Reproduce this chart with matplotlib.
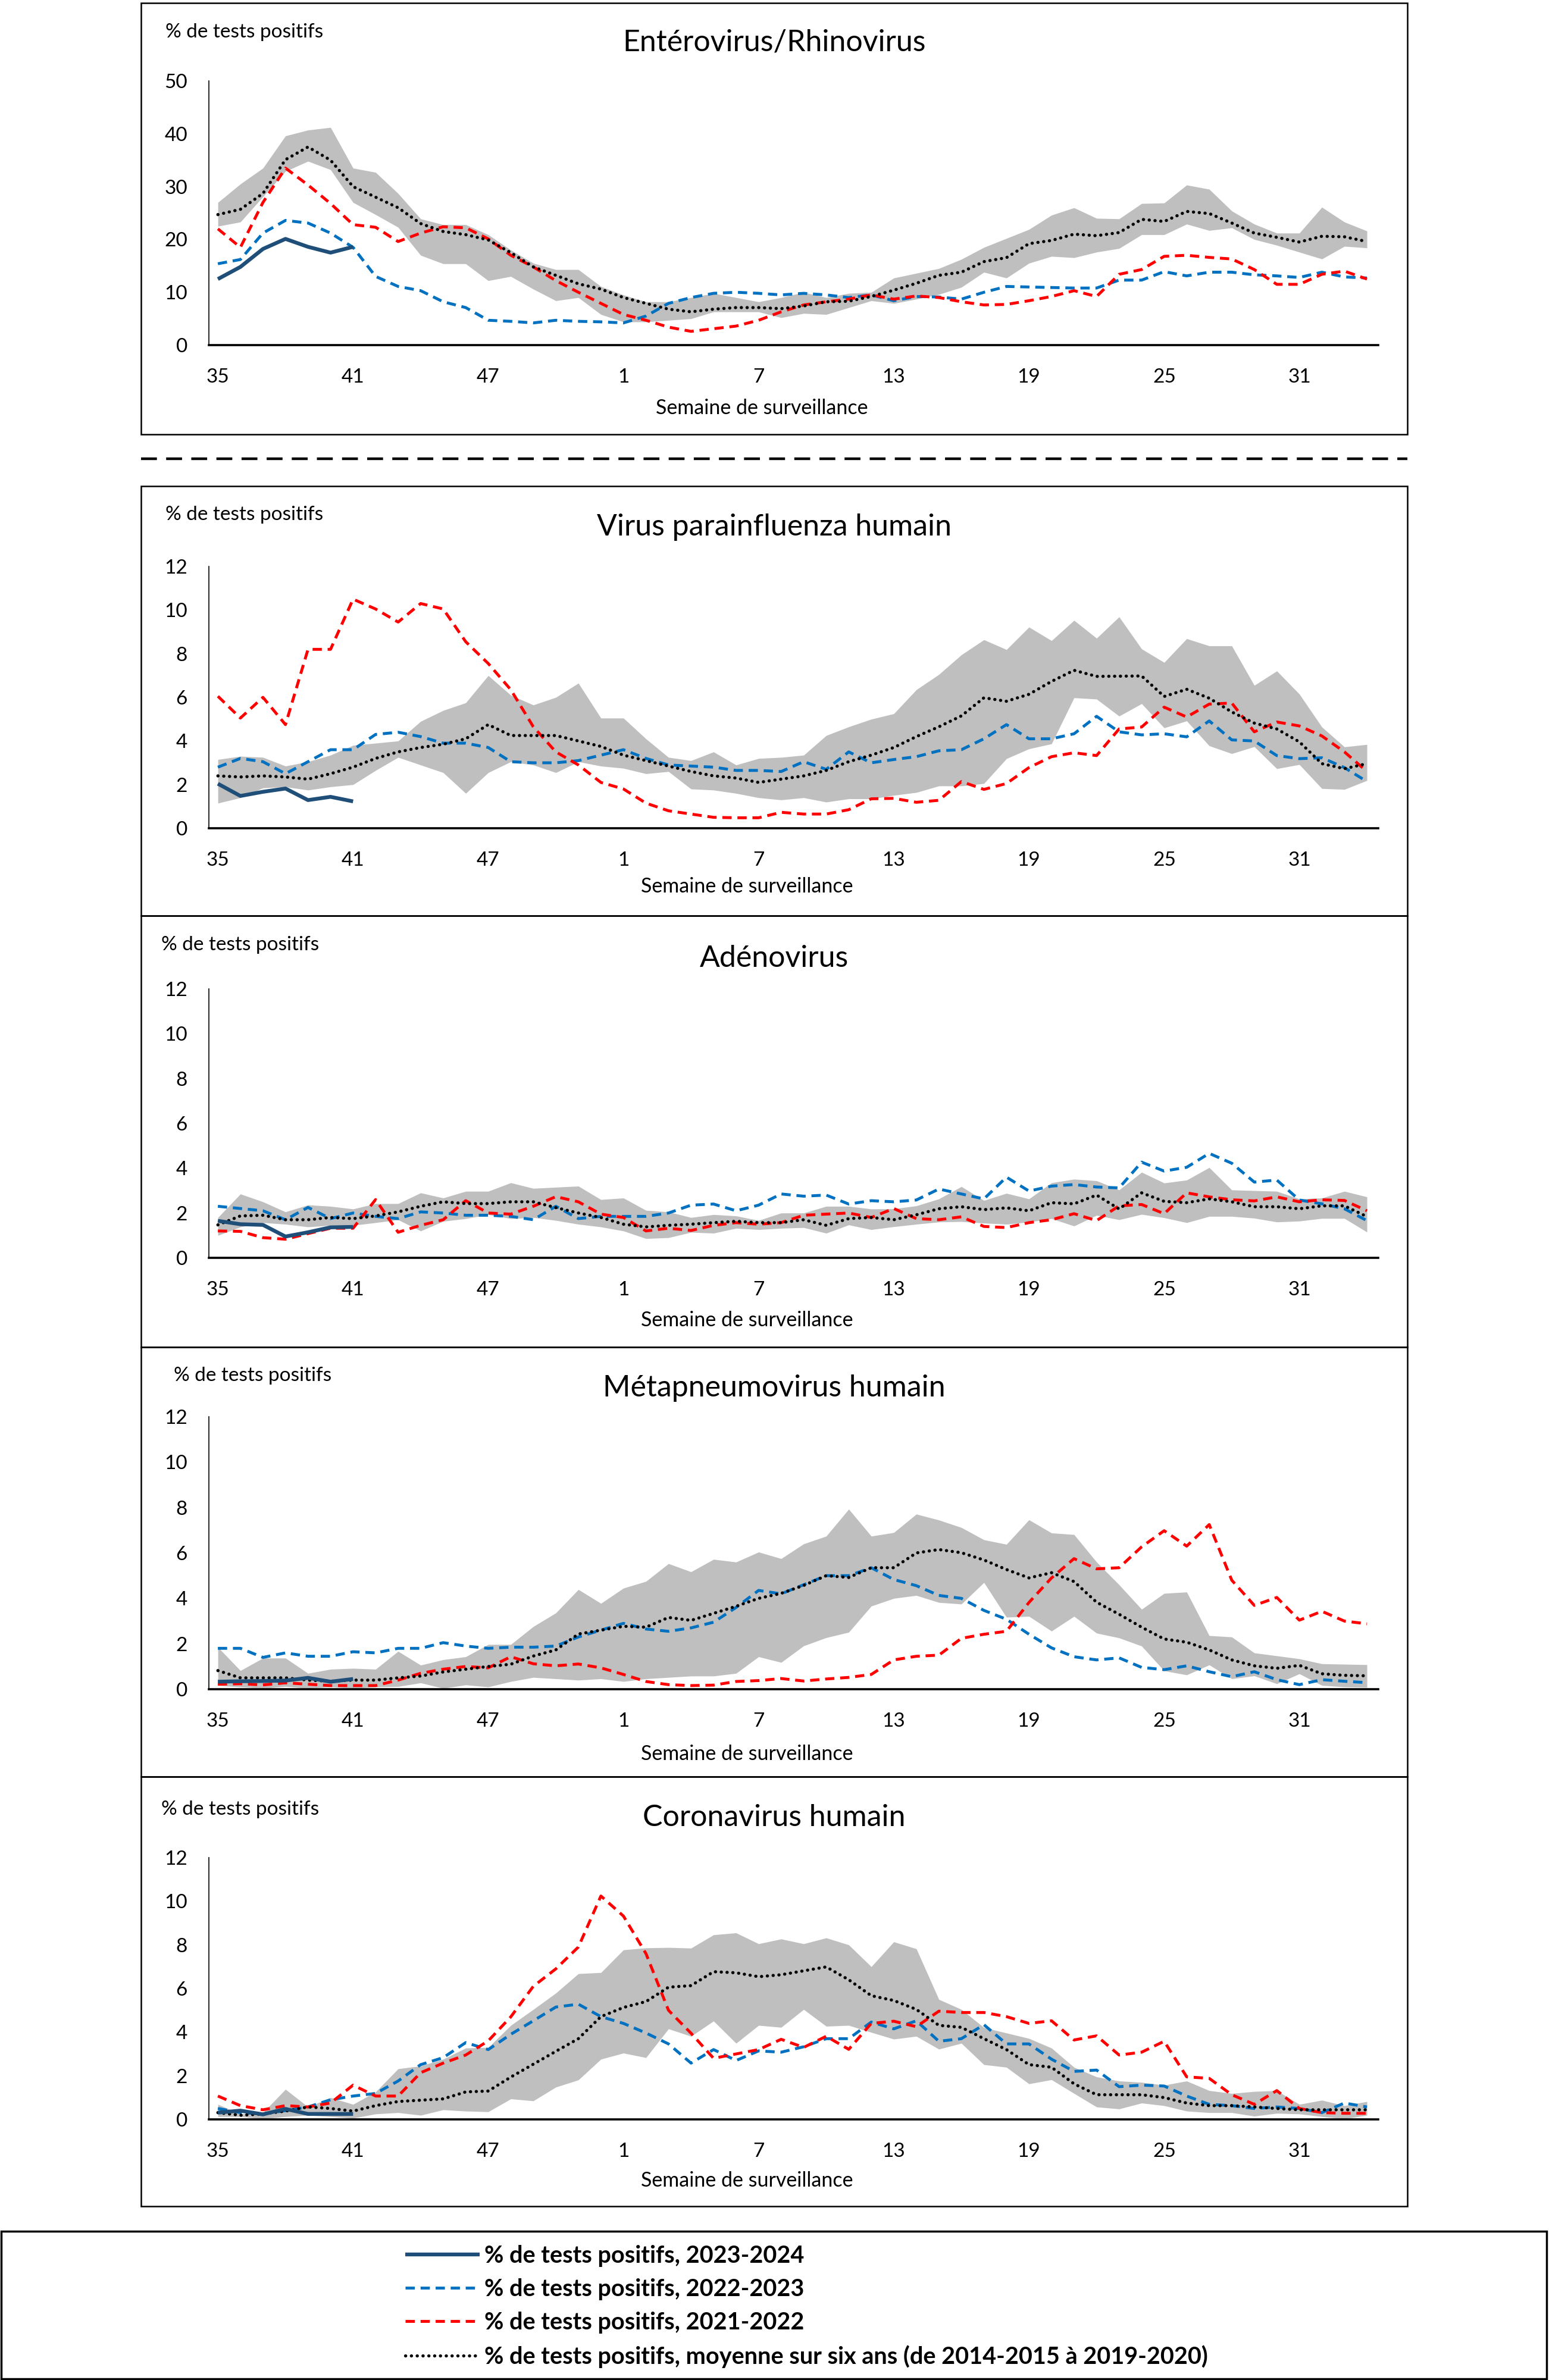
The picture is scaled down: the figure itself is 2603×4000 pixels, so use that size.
import matplotlib
matplotlib.use("Agg")
import matplotlib.pyplot as plt
from matplotlib.patches import Rectangle
from matplotlib.lines import Line2D
import numpy as np

plt.rcParams['font.family'] = ['Lato', 'DejaVu Sans']

# ---------------- data ----------------
weeks = list(range(35, 53)) + list(range(1, 35))
tick_weeks = [35, 41, 47, 1, 7, 13, 19, 25, 31]

labels = ["% de tests positifs, 2023-2024",
          "% de tests positifs, 2022-2023",
          "% de tests positifs, 2021-2022",
          "% de tests positifs, moyenne sur six ans (de 2014-2015 à 2019-2020)"]

# Entérovirus/Rhinovirus
cur1 = [12.5, 14.8, 18.2, 20.1, 18.6, 17.5, 18.6]
blue1 = [15.4, 16.2, 21.2, 23.6, 23.1, 21.2, 18.5, 13.0, 11.1, 10.3, 8.2, 7.1, 4.7, 4.5, 4.2, 4.7, 4.5, 4.4,
         4.2, 5.5, 7.9, 9.0, 9.8, 10.0, 9.8, 9.5, 9.8, 9.5, 9.0, 9.5,
         8.4, 9.2, 9.1, 8.7, 10.0, 11.1, 11.0, 10.9, 10.8, 10.8, 12.3, 12.3, 13.9, 13.1, 13.8, 13.8, 13.3, 13.1,
         12.8, 13.8, 12.9, 12.7]
red1 = [22.0, 18.5, 27.0, 33.5, 30.3, 26.8, 22.8, 22.3, 19.6, 21.2, 22.4, 22.2, 20.1, 17.0, 14.8, 12.2, 10.0, 7.9,
        5.8, 4.7, 3.4, 2.6, 3.1, 3.6, 4.7, 6.3, 7.6, 8.2, 8.7, 9.5,
        8.7, 9.3, 9.0, 8.2, 7.6, 7.7, 8.4, 9.2, 10.3, 9.2, 13.4, 14.3, 16.8, 17.0, 16.6, 16.3, 14.3, 11.5, 11.5,
        13.4, 14.0, 12.5]
mean1 = [24.7, 25.7, 28.7, 35.1, 37.5, 35.0, 30.0, 28.0, 26.0, 23.0, 21.5, 20.9, 19.9, 17.5, 14.8, 13.2, 11.6, 10.6,
         9.0, 7.9, 6.8, 6.3, 6.8, 7.1, 7.1, 6.9, 7.4, 8.2, 8.3, 9.2,
         10.4, 11.7, 13.2, 13.8, 15.8, 16.55, 19.2, 19.8, 21.0, 20.7, 21.3, 23.8, 23.4, 25.3, 24.9, 23.1, 21.2,
         20.4, 19.5, 20.6, 20.5, 19.6]
hi1 = [27.0, 30.5, 33.5, 39.6, 40.7, 41.2, 33.5, 32.7, 28.7, 23.9, 22.8, 22.8, 20.9, 18.0, 15.5, 14.3, 14.3, 11.1,
       9.5, 8.2, 8.2, 9.0, 9.8, 9.0, 8.2, 9.0, 10.0, 9.0, 9.8, 10.0,
       12.7, 13.6, 14.5, 16.25, 18.5, 20.2, 21.9, 24.6, 26.0, 24.0, 23.9, 26.8, 26.9, 30.3, 29.5, 25.4, 22.9,
       21.2, 21.2, 26.1, 23.3, 21.6]
lo1 = [22.5, 23.3, 28.1, 32.9, 34.8, 33.2, 27.0, 24.7, 22.3, 17.0, 15.4, 15.4, 12.2, 13.0, 10.6, 8.4, 9.0, 5.8,
       4.4, 4.4, 4.7, 5.0, 6.3, 6.3, 6.3, 5.2, 6.0, 5.8, 7.1, 8.4,
       7.9, 8.7, 9.6, 10.95, 13.8, 12.7, 15.5, 16.8, 16.55, 17.6, 18.3, 20.9, 20.9, 22.9, 21.7, 22.2, 20.0,
       18.9, 17.6, 16.3, 18.7, 18.4]

# Virus parainfluenza humain
cur2 = [2.04, 1.48, 1.67, 1.82, 1.29, 1.44, 1.23]
blue2 = [2.8, 3.2, 3.05, 2.5, 3.05, 3.6, 3.6, 4.3, 4.4, 4.2, 3.9, 3.9, 3.7, 3.05, 3.0, 3.0, 3.1, 3.35, 3.6, 3.2,
         2.9, 2.85, 2.8, 2.65, 2.65, 2.6, 3.05, 2.7, 3.5, 3.0,
         3.15, 3.28, 3.55, 3.6, 4.1, 4.75, 4.1, 4.1, 4.33, 5.13, 4.42, 4.28, 4.33, 4.19, 4.92, 4.05, 4.0, 3.33,
         3.19, 3.23, 2.78, 2.14]
red2 = [6.05, 5.05, 6.0, 4.75, 8.2, 8.2, 10.5, 10.05, 9.45, 10.3, 10.05, 8.55, 7.55, 6.35, 4.65, 3.5, 2.9, 2.1,
        1.8, 1.15, 0.8, 0.65, 0.5, 0.48, 0.48, 0.73, 0.65, 0.65, 0.85, 1.35,
        1.37, 1.19, 1.28, 2.14, 1.78, 2.05, 2.78, 3.28, 3.46, 3.33, 4.55, 4.64, 5.55, 5.1, 5.69, 5.74, 4.42,
        4.87, 4.69, 4.23, 3.5, 2.6]
mean2 = [2.4, 2.35, 2.4, 2.35, 2.25, 2.5, 2.8, 3.2, 3.5, 3.7, 3.85, 4.1, 4.75, 4.25, 4.25, 4.25, 4.0, 3.75, 3.35,
         3.1, 2.85, 2.6, 2.4, 2.3, 2.1, 2.25, 2.4, 2.65, 3.05, 3.35, 3.7, 4.2, 4.65, 5.15,
         5.98, 5.82, 6.14, 6.73, 7.24, 6.96, 6.97, 6.98, 6.04, 6.37, 5.96, 5.33, 4.82, 4.55, 3.96, 2.96, 2.73,
         2.96]
hi2 = [3.15, 3.3, 3.25, 2.85, 3.05, 3.35, 3.8, 3.9, 4.0, 4.9, 5.4, 5.75, 7.0, 6.1, 5.65, 6.0, 6.65, 5.05, 5.05,
       4.1, 3.25, 3.1, 3.5, 2.9, 3.2, 3.25, 3.35, 4.25, 4.65, 5.0, 5.25, 6.35, 7.05, 7.95,
       8.64, 8.19, 9.22, 8.6, 9.53, 8.71, 9.69, 8.22, 7.6, 8.69, 8.36, 8.36, 6.55, 7.21, 6.15, 4.64, 3.73, 3.84]
lo2 = [1.15, 1.4, 1.85, 1.9, 1.75, 1.9, 2.0, 2.65, 3.25, 2.9, 2.55, 1.6, 2.55, 3.05, 2.9, 2.55, 3.05, 2.85, 2.75,
       2.5, 2.6, 1.8, 1.75, 1.6, 1.4, 1.3, 1.4, 1.2, 1.35, 1.35,
       1.51, 1.64, 1.94, 1.94, 2.05, 3.19, 3.64, 3.87, 5.98, 5.92, 5.14, 5.71, 4.6, 4.92, 3.78, 3.42, 3.74,
       2.73, 2.92, 1.82, 1.78, 2.19]

# Adénovirus
cur3 = [1.65, 1.5, 1.47, 0.95, 1.14, 1.36, 1.38]
blue3 = [2.3, 2.2, 2.1, 1.7, 2.25, 1.75, 2.0, 1.85, 1.75, 2.05, 2.0, 1.9, 1.9, 1.85, 1.7, 2.3, 1.75, 1.85, 1.85,
         1.85, 2.0, 2.35, 2.4, 2.1, 2.35, 2.85, 2.75, 2.8, 2.4, 2.55,
         2.5, 2.58, 3.07, 2.85, 2.63, 3.6, 2.98, 3.2, 3.27, 3.16, 3.12, 4.27, 3.87, 4.04, 4.66, 4.22, 3.38, 3.47,
         2.58, 2.41, 2.19, 1.66]
red3 = [1.2, 1.18, 0.9, 0.83, 1.08, 1.32, 1.32, 2.6, 1.14, 1.45, 1.7, 2.55, 2.0, 1.95, 2.3, 2.73, 2.5, 1.95, 1.8,
        1.2, 1.32, 1.22, 1.45, 1.57, 1.5, 1.57, 1.9, 1.95, 2.0, 1.8,
        2.2, 1.75, 1.7, 1.83, 1.4, 1.35, 1.57, 1.7, 1.97, 1.66, 2.32, 2.38, 1.97, 2.9, 2.72, 2.59, 2.54, 2.72,
        2.5, 2.59, 2.56, 2.1]
mean3 = [1.47, 1.87, 1.9, 1.7, 1.7, 1.8, 1.75, 1.87, 2.05, 2.3, 2.5, 2.42, 2.42, 2.5, 2.5, 2.24, 2.0, 1.8, 1.5,
         1.38, 1.45, 1.5, 1.57, 1.63, 1.57, 1.57, 1.7, 1.45, 1.75, 1.8,
         1.7, 1.92, 2.19, 2.28, 2.15, 2.23, 2.1, 2.46, 2.41, 2.8, 2.18, 2.9, 2.52, 2.46, 2.63, 2.5, 2.28, 2.28,
         2.19, 2.32, 2.32, 1.84]
hi3 = [1.8, 2.85, 2.5, 2.05, 2.36, 2.3, 2.18, 2.42, 2.42, 2.9, 2.67, 2.97, 2.97, 3.35, 3.1, 3.15, 3.2, 2.6, 2.67,
       2.12, 2.05, 1.8, 1.93, 1.87, 1.67, 2.0, 2.0, 2.3, 2.3, 2.18,
       2.19, 2.32, 2.63, 3.18, 2.56, 2.88, 2.63, 3.35, 3.51, 3.44, 3.03, 3.82, 3.34, 3.47, 4.03, 3.03, 3.0, 2.97,
       2.63, 2.67, 2.97, 2.72]
lo3 = [1.0, 1.38, 1.57, 1.5, 1.38, 1.45, 1.45, 1.57, 1.7, 1.2, 1.63, 1.75, 1.93, 1.75, 1.8, 1.67, 1.5, 1.38, 1.2,
       0.86, 0.9, 1.14, 1.1, 1.32, 1.26, 1.32, 1.35, 1.1, 1.47, 1.26,
       1.39, 1.5, 1.6, 1.62, 1.55, 1.5, 1.6, 1.75, 1.42, 1.9, 1.7, 1.94, 1.79, 1.57, 1.85, 1.85, 1.77, 1.6,
       1.64, 1.76, 1.76, 1.15]

# Métapneumovirus humain
cur4 = [0.33, 0.35, 0.36, 0.38, 0.5, 0.33, 0.45]
blue4 = [1.8, 1.8, 1.4, 1.6, 1.45, 1.45, 1.65, 1.6, 1.8, 1.8, 2.05, 1.9, 1.8, 1.85, 1.85, 1.9, 2.3, 2.6, 2.9,
         2.65, 2.55, 2.7, 2.95, 3.6, 4.35, 4.2, 4.6, 5.0, 5.0, 5.35,
         4.83, 4.56, 4.13, 4.0, 3.47, 3.08, 2.42, 1.82, 1.43, 1.29, 1.38, 0.96, 0.86, 1.03, 0.77, 0.55, 0.77, 0.42,
         0.2, 0.42, 0.35, 0.29]
red4 = [0.22, 0.24, 0.19, 0.28, 0.22, 0.16, 0.16, 0.16, 0.4, 0.7, 0.88, 1.0, 0.94, 1.43, 1.12, 1.03, 1.11, 0.94,
        0.65, 0.34, 0.2, 0.16, 0.18, 0.34, 0.38, 0.47, 0.36, 0.45, 0.52, 0.65,
        1.29, 1.45, 1.5, 2.24, 2.42, 2.55, 3.82, 4.9, 5.75, 5.3, 5.35, 6.27, 6.98, 6.3, 7.25, 4.8, 3.69, 4.04,
        3.04, 3.43, 3.0, 2.88]
mean4 = [0.82, 0.5, 0.5, 0.5, 0.4, 0.35, 0.4, 0.4, 0.5, 0.58, 0.76, 0.88, 1.0, 1.1, 1.46, 1.73, 2.43, 2.6, 2.77,
         2.73, 3.16, 3.03, 3.34, 3.65, 4.0, 4.22, 4.57, 5.0, 4.92, 5.35,
         5.35, 6.0, 6.15, 6.01, 5.69, 5.27, 4.9, 5.13, 4.74, 3.83, 3.3, 2.73, 2.21, 2.07, 1.73, 1.29, 1.03, 0.92,
         1.05, 0.68, 0.61, 0.59]
hi4 = [1.85, 0.82, 1.37, 1.37, 0.7, 0.88, 0.92, 0.88, 1.67, 1.06, 1.3, 1.43, 1.97, 1.97, 2.76, 3.36, 4.39, 3.78,
       4.45, 4.75, 5.53, 5.17, 5.72, 5.6, 6.04, 5.75, 6.4, 6.74, 7.93, 6.74,
       6.9, 7.71, 7.45, 7.12, 6.58, 6.38, 7.46, 6.88, 6.81, 5.6, 4.6, 3.52, 4.22, 4.28, 2.36, 2.3, 1.6, 1.47,
       1.34, 1.12, 1.1, 1.08]
lo4 = [0.16, 0.1, 0.04, 0.12, 0.04, 0.1, 0.04, 0.1, 0.12, 0.28, 0.04, 0.19, 0.1, 0.34, 0.52, 0.46, 0.4, 0.46,
       0.34, 0.46, 0.52, 0.58, 0.58, 0.7, 1.43, 1.18, 1.91, 2.27, 2.51, 3.66,
       4.0, 4.13, 3.82, 3.75, 4.7, 3.17, 3.21, 2.56, 3.21, 2.47, 2.26, 1.9, 0.81, 0.63, 1.07, 0.46, 0.59, 0.24,
       0.68, 0.17, 0.1, 0.08]

# Coronavirus humain
cur5 = [0.31, 0.4, 0.23, 0.48, 0.25, 0.25, 0.25]
blue5 = [0.5, 0.31, 0.25, 0.4, 0.57, 0.9, 1.07, 1.19, 1.76, 2.51, 2.83, 3.52, 3.2, 3.9, 4.52, 5.15, 5.28, 4.71,
         4.4, 3.96, 3.46, 2.58, 3.2, 2.7, 3.14, 3.08, 3.33, 3.7, 3.7, 4.46, 4.15, 4.52, 3.58, 3.7, 4.34, 3.46,
         3.46, 2.76, 2.2, 2.26, 1.5, 1.57, 1.53, 1.07, 0.69, 0.63, 0.5, 0.57, 0.5, 0.31, 0.75, 0.57]
red5 = [1.07, 0.63, 0.44, 0.63, 0.57, 0.75, 1.57, 1.07, 1.07, 2.14, 2.58, 2.95, 3.6, 4.7, 6.1, 6.9, 7.9,
        10.24, 9.32, 7.6, 5.0, 3.95, 2.8, 3.0, 3.2, 3.67, 3.3, 3.81, 3.21, 4.4, 4.5, 4.25, 4.96, 4.9, 4.9,
        4.71, 4.4, 4.52, 3.64, 3.83, 2.95, 3.08, 3.58, 1.95, 1.88, 1.13, 0.69, 1.32, 0.5, 0.31, 0.28, 0.28]
mean5 = [0.31, 0.19, 0.25, 0.38, 0.57, 0.5, 0.38, 0.63, 0.82, 0.88, 0.94, 1.26, 1.3, 1.94, 2.53, 3.12, 3.7, 4.71,
         5.13, 5.4, 6.06, 6.13, 6.77, 6.72, 6.54, 6.63, 6.81, 6.99, 6.4, 5.67, 5.45, 5.04, 4.31, 4.22, 3.7, 3.2,
         2.51, 2.39, 1.63, 1.13, 1.13, 1.13, 1.0, 0.75, 0.63, 0.63, 0.57, 0.5, 0.44, 0.44, 0.44, 0.44]
hi5 = [0.69, 0.25, 0.31, 1.38, 0.57, 1.0, 0.69, 1.26, 2.32, 2.45, 2.76, 3.27, 3.3, 4.31, 5.04, 5.79, 6.68, 6.73,
       7.77, 7.86, 7.88, 7.85, 8.46, 8.55, 8.05, 8.27, 8.05, 8.32, 8.0, 7.0, 8.14, 7.82, 5.5, 5.04, 4.21, 3.96,
       3.71, 3.27, 2.39, 1.95, 1.76, 1.7, 1.57, 1.76, 1.32, 1.19, 1.28, 1.32, 0.69, 0.88, 0.63, 0.82]
lo5 = [0.13, 0.13, 0.03, 0.13, 0.19, 0.13, 0.06, 0.25, 0.31, 0.19, 0.44, 0.38, 0.35, 0.94, 0.85, 1.48, 1.81, 2.76,
       3.04, 2.83, 4.15, 3.81, 4.51, 3.49, 4.31, 4.22, 5.04, 4.27, 4.31, 3.99, 3.68, 3.81, 3.22, 3.49, 2.51, 2.39,
       1.63, 1.82, 1.19, 0.57, 0.48, 0.75, 0.63, 0.38, 0.31, 0.31, 0.15, 0.28, 0.25, 0.13, 0.03, 0.19]

titles = ["Entérovirus/Rhinovirus", "Virus parainfluenza humain", "Adénovirus",
          "Métapneumovirus humain", "Coronavirus humain"]
ymaxs = [50, 12, 12, 12, 12]
ysteps = [10, 2, 2, 2, 2]
series = [(cur1, blue1, red1, mean1, lo1, hi1),
          (cur2, blue2, red2, mean2, lo2, hi2),
          (cur3, blue3, red3, mean3, lo3, hi3),
          (cur4, blue4, red4, mean4, lo4, hi4),
          (cur5, blue5, red5, mean5, lo5, hi5)]

# ---------------- layout (pixels) ----------------
W, H = 2603, 4000
boxes = [(5, 730), (817, 1539), (1539, 2264), (2264, 2986), (2986, 3708)]
plot_y = [(136, 580), (952, 1392), (1662, 2114), (2381, 2839), (3122, 3562)]
title_y = [72, 886, 1611, 2333, 3055]
ylab_pos = [(278, 54), (278, 865), (271, 1588), (292, 2312), (271, 3041)]
xlab_pos = [(1280, 686), (1255, 1490), (1255, 2219), (1255, 2948), (1255, 3665)]
BOX_X0, BOX_X1 = 237, 2365
AX_X0, AX_X1 = 351, 2316

C_CUR = '#1F4E79'
C_BLUE = '#0070C0'
C_RED = '#FF0000'
C_GRAY = '#BFBFBF'

fig = plt.figure(figsize=(W / 100, H / 100), dpi=100)


def fx(x):
    return x / W


def fy(y):
    return 1 - y / H


x = np.arange(len(weeks))
handles = None
for k in range(5):
    cur, blue, red, mean, lo, hi = series[k]
    for s in (blue, red, mean, lo, hi):
        assert len(s) == len(weeks)
    b0, b1 = boxes[k]
    fig.add_artist(Rectangle((fx(BOX_X0), fy(b1)), fx(BOX_X1) - fx(BOX_X0), fy(b0) - fy(b1),
                             transform=fig.transFigure, fill=False, edgecolor='black', linewidth=1.8))
    yt, yb = plot_y[k]
    ax = fig.add_axes([fx(AX_X0), fy(yb), fx(AX_X1) - fx(AX_X0), fy(yt) - fy(yb)])
    ax.fill_between(x, lo, hi, color=C_GRAY, linewidth=0, zorder=1)
    l_cur, = ax.plot(x[:len(cur)], cur, color=C_CUR, linewidth=4.6, solid_capstyle='butt', zorder=5)
    l_blue, = ax.plot(x, blue, color=C_BLUE, linewidth=3.5, dashes=(3.2, 2.0), zorder=3)
    l_red, = ax.plot(x, red, color=C_RED, linewidth=3.5, dashes=(3.2, 2.0), zorder=3)
    l_mean, = ax.plot(x, mean, color='black', linewidth=3.8, dashes=(0.05, 1.8),
                      dash_capstyle='round', zorder=4)
    if handles is None:
        handles = [l_cur, l_blue, l_red, l_mean]
    ax.set_xlim(-0.4, len(weeks) - 0.5)
    ax.set_ylim(0, ymaxs[k])
    ax.set_yticks(np.arange(0, ymaxs[k] + 0.1, ysteps[k]))
    ax.set_xticks([weeks.index(w) for w in tick_weeks])
    ax.set_xticklabels([str(w) for w in tick_weeks])
    for side in ('top', 'right'):
        ax.spines[side].set_visible(False)
    ax.spines['left'].set_linewidth(1.2)
    ax.spines['bottom'].set_linewidth(2.6)
    ax.spines['bottom'].set_zorder(6)
    ax.tick_params(axis='both', length=0, labelsize=24)
    ax.tick_params(axis='x', pad=28)
    ax.tick_params(axis='y', pad=26)
    ax.patch.set_alpha(0)
    fig.text(fx((BOX_X0 + BOX_X1) / 2), fy(title_y[k]), titles[k], ha='center', va='center', fontsize=36)
    fig.text(fx(ylab_pos[k][0]), fy(ylab_pos[k][1]), "% de tests positifs", ha='left', va='center',
             fontsize=24)
    fig.text(fx(xlab_pos[k][0]), fy(xlab_pos[k][1]), "Semaine de surveillance", ha='center', va='center',
             fontsize=24.5)

# dashed separator
fig.add_artist(Line2D([fx(BOX_X0), fx(BOX_X1)], [fy(771), fy(771)], transform=fig.transFigure,
                      color='black', linewidth=3.2, dashes=(6, 3.5)))

# legend box
fig.add_artist(Rectangle((fx(2), fy(3998)), fx(2599) - fx(2), fy(3750) - fy(3998),
                         transform=fig.transFigure, fill=False, edgecolor='black', linewidth=2.5))
leg = fig.legend(handles, labels, loc='upper left', bbox_to_anchor=(fx(681), fy(3773)),
                 frameon=False, prop=dict(family=['Lato', 'DejaVu Sans'], weight='bold', size=28.5),
                 handlelength=3.15, handletextpad=0.2, labelspacing=0.48, borderpad=0, borderaxespad=0)

fig.savefig("out.png", dpi=100)
